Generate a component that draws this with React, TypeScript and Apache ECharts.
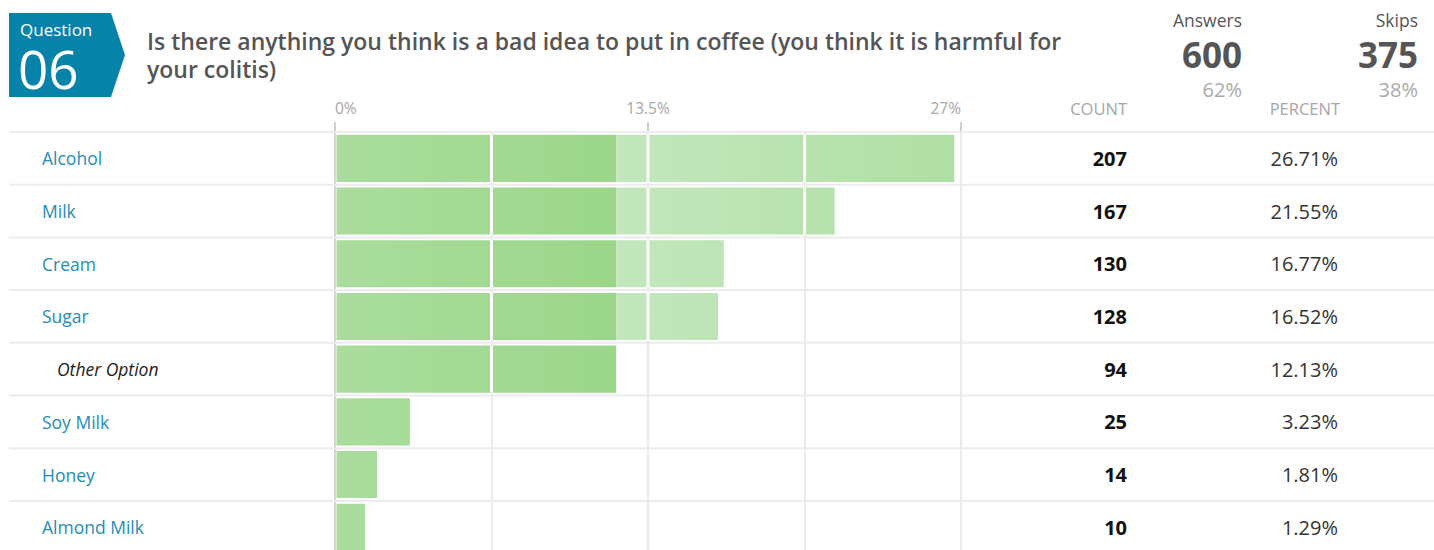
import React, { useEffect, useRef } from "react";
import * as echarts from "echarts";

const categories = ["Alcohol", "Milk", "Cream", "Sugar", "Other Option", "Soy Milk", "Honey", "Almond Milk"];
const counts = [207, 167, 130, 128, 94, 25, 14, 10];
const percents = [26.71, 21.55, 16.77, 16.52, 12.13, 3.23, 1.81, 1.29];
const otherLabel = "Other Option";
const axisMax = 27;
const gridInterval = 6.75;
const labelInterval = 13.5;
const questionNumber = "06";
const questionTitle = "Is there anything you think is a bad idea to put in coffee (you think it is harmful for\nyour colitis)";
const answersCount = 600;
const answersPct = "62%";
const skipsCount = 375;
const skipsPct = "38%";

const FONT = "'Open Sans', 'Noto Sans', sans-serif";

export default function App() {
  const ref = useRef<HTMLDivElement>(null);
  useEffect(() => {
    document.body.style.margin = "0";
    document.body.style.overflow = "hidden";
    const chart = echarts.init(ref.current!, null, { renderer: "svg" });
    const splitValue = percents[categories.indexOf(otherLabel)];
    const gridTicks: number[] = [];
    for (let t = gridInterval; t < axisMax; t += gridInterval) gridTicks.push(t);

    const option: any = {
      animation: false,
      textStyle: { fontFamily: FONT },
      grid: { left: 335, top: 132, width: 626, height: 421.6, containLabel: false },
      xAxis: [
        {
          type: "value", min: 0, max: axisMax, interval: gridInterval, position: "bottom",
          axisLine: { show: false }, axisTick: { show: false }, axisLabel: { show: false },
          splitLine: { show: true, lineStyle: { color: "#ebebeb", width: 2 } },
        },
        {
          type: "value", min: 0, max: axisMax, interval: labelInterval, position: "top",
          axisLine: { show: false },
          axisTick: { show: true, length: 10, lineStyle: { color: "#cfcfcf", width: 2 } },
          splitLine: { show: false },
          axisLabel: {
            show: true, margin: 16, color: "#a6a6a6", fontSize: 15.5, fontFamily: FONT,
            formatter: (v: number) => v + "%", alignMinLabel: "left", alignMaxLabel: "right",
          },
        },
      ],
      yAxis: [
        {
          type: "category", inverse: true, data: categories, position: "left",
          axisLine: { show: true, lineStyle: { color: "#d6d6d6", width: 2 } },
          axisTick: { show: false }, splitLine: { show: false },
          axisLabel: {
            align: "left", margin: 293, fontFamily: FONT,
            formatter: (v: string) => (v === otherLabel ? `{o|${v}}` : `{n|${v}}`),
            rich: {
              n: { color: "#1f8db5", fontSize: 17.5, fontFamily: FONT },
              o: { color: "#222222", fontSize: 17.5, fontStyle: "italic", fontFamily: FONT, padding: [0, 0, 0, 15] },
            },
          },
        },
        {
          type: "category", inverse: true, data: counts.map(String), position: "right",
          axisLine: { show: false }, axisTick: { show: false }, splitLine: { show: false },
          axisLabel: { align: "right", margin: 166, color: "#111", fontWeight: "bold", fontSize: 20, fontFamily: FONT },
        },
        {
          type: "category", inverse: true, data: percents.map((p) => p.toFixed(2) + "%"), position: "right",
          axisLine: { show: false }, axisTick: { show: false }, splitLine: { show: false },
          axisLabel: { align: "right", margin: 377, color: "#333", fontSize: 20, fontFamily: FONT },
        },
      ],
      series: [
        {
          type: "custom", coordinateSystem: "cartesian2d", xAxisIndex: 0, yAxisIndex: 0, z: 1, clip: false,
          encode: { x: 1, y: 0 },
          data: categories.map((_, i) => [i, percents[i]]),
          renderItem: (params: any, api: any) => {
            const cat = api.value(0);
            const [, yc] = api.coord([0, cat]);
            const rowH = api.size([0, 1])[1];
            const yTop = yc - rowH / 2;
            const children: any[] = [
              { type: "line", shape: { x1: 9, y1: yTop, x2: 1434, y2: yTop }, style: { stroke: "#ececec", lineWidth: 2 } },
            ];
            if (params.dataIndex === categories.length - 1) {
              const yb = yc + rowH / 2;
              children.push({ type: "line", shape: { x1: 9, y1: yb, x2: 1434, y2: yb }, style: { stroke: "#ececec", lineWidth: 2 } });
            }
            return { type: "group", children };
          },
        },
        {
          type: "custom", coordinateSystem: "cartesian2d", xAxisIndex: 0, yAxisIndex: 0, z: 3, clip: false,
          encode: { x: 1, y: 0 },
          data: categories.map((_, i) => [i, percents[i]]),
          renderItem: (params: any, api: any) => {
            const cat = api.value(0);
            const v = api.value(1);
            const [x0, yc] = api.coord([0, cat]);
            const [x1] = api.coord([v, cat]);
            const [xs] = api.coord([splitValue, cat]);
            const [xMax] = api.coord([axisMax, cat]);
            const rowH = api.size([0, 1])[1];
            const barH = rowH * 0.893;
            const y = yc - barH / 2;
            const start = x0 + 1.5;
            const darkEnd = Math.min(x1, xs);
            const children: any[] = [
              {
                type: "rect",
                shape: { x: start, y, width: darkEnd - start, height: barH },
                style: {
                  fill: new echarts.graphic.LinearGradient(x0, 0, xs, 0, [
                    { offset: 0, color: "#aadd9d" },
                    { offset: 1, color: "#9bd68a" },
                  ], true),
                },
              },
            ];
            if (x1 > xs) {
              children.push({
                type: "rect",
                shape: { x: xs, y, width: x1 - xs, height: barH },
                style: {
                  fill: new echarts.graphic.LinearGradient(xs, 0, xMax, 0, [
                    { offset: 0, color: "#c3e7bd" },
                    { offset: 1, color: "#afdfa2" },
                  ], true),
                },
              });
            }
            gridTicks.forEach((t) => {
              if (t < v) {
                const [xt] = api.coord([t, cat]);
                children.push({ type: "line", shape: { x1: xt, y1: y, x2: xt, y2: y + barH }, style: { stroke: "#ffffff", lineWidth: 3 } });
              }
            });
            return { type: "group", children };
          },
        },
      ],
      graphic: [
        { type: "polygon", shape: { points: [[9, 13], [111, 13], [125, 55], [111, 97], [9, 97]] }, style: { fill: "#0783aa" } },
        { type: "text", x: 20, y: 29, style: { text: "Question", fill: "#fff", font: `17px ${FONT}`, verticalAlign: "middle" } },
        { type: "text", x: 18, y: 68, style: { text: questionNumber, fill: "#fff", font: `53px ${FONT}`, verticalAlign: "middle" } },
        { type: "text", x: 147, y: 27, style: { text: questionTitle, fill: "#555", font: `600 23px ${FONT}`, lineHeight: 28, verticalAlign: "top" } },
        { type: "text", x: 1242, y: 20, style: { text: "Answers", fill: "#555", font: `17.5px ${FONT}`, align: "right", verticalAlign: "middle" } },
        { type: "text", x: 1242, y: 54, style: { text: String(answersCount), fill: "#555", font: `bold 35px ${FONT}`, align: "right", verticalAlign: "middle" } },
        { type: "text", x: 1242, y: 89, style: { text: answersPct, fill: "#aaa", font: `20px ${FONT}`, align: "right", verticalAlign: "middle" } },
        { type: "text", x: 1418, y: 20, style: { text: "Skips", fill: "#555", font: `17.5px ${FONT}`, align: "right", verticalAlign: "middle" } },
        { type: "text", x: 1418, y: 54, style: { text: String(skipsCount), fill: "#555", font: `bold 35px ${FONT}`, align: "right", verticalAlign: "middle" } },
        { type: "text", x: 1418, y: 89, style: { text: skipsPct, fill: "#aaa", font: `20px ${FONT}`, align: "right", verticalAlign: "middle" } },
        { type: "text", x: 1127, y: 108, style: { text: "COUNT", fill: "#a6a6a6", font: `16.5px ${FONT}`, align: "right", verticalAlign: "middle" } },
        { type: "text", x: 1340, y: 108, style: { text: "PERCENT", fill: "#a6a6a6", font: `16.5px ${FONT}`, align: "right", verticalAlign: "middle" } },
      ],
    };
    chart.setOption(option);
    return () => chart.dispose();
  }, []);
  return (
    <div style={{ width: 1434, height: 550, overflow: "hidden" }}>
      <div ref={ref} style={{ width: 1434, height: 560 }} />
    </div>
  );
}
